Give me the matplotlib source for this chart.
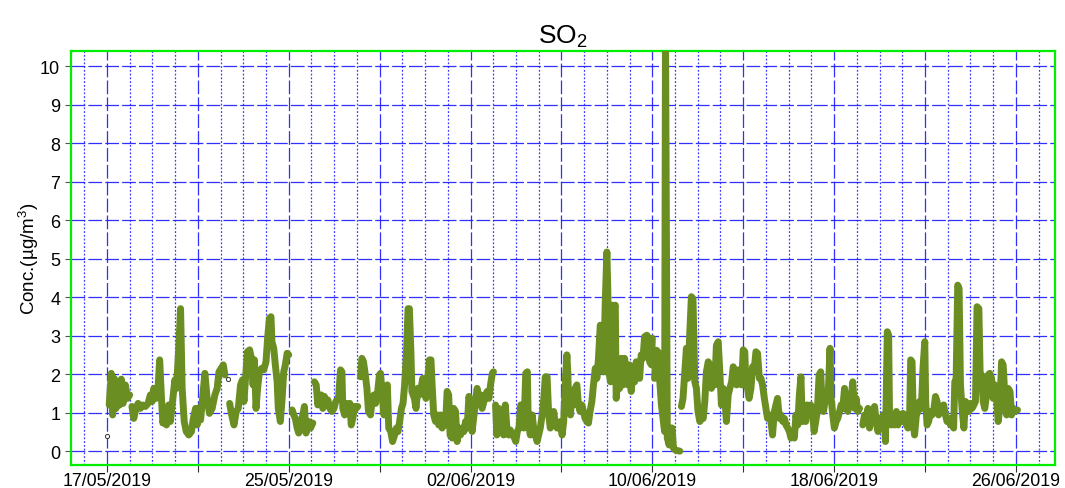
import numpy as np
import pandas as pd
import matplotlib
matplotlib.use("Agg")
import matplotlib.pyplot as plt
import matplotlib.dates as mdates
from matplotlib.ticker import FixedLocator, FixedFormatter

plt.rcParams['font.family'] = ['Liberation Sans', 'DejaVu Sans']
plt.rcParams['mathtext.fontset'] = 'custom'
plt.rcParams['mathtext.rm'] = 'Liberation Sans'
plt.rcParams['mathtext.it'] = 'Liberation Sans:italic'

# ---------------- data ----------------
start = pd.Timestamp('2019-05-17')
title = 'SO$_2$'
ylabel = 'Conc.(µg/m$^3$)'
tick_labels = ['17/05/2019', '', '25/05/2019', '', '02/06/2019', '',
               '10/06/2019', '', '18/06/2019', '', '26/06/2019']

# time in days after 17/05/2019 00:00, SO2 concentration (µg/m3); nan = gap
days = [
    0.10, 0.19, 0.25, 0.32, 0.40, 0.49, 0.56, 0.63, 0.71, 0.81, 0.91, 1.00, 1.05,
    1.10, 1.18, 1.28, 1.37, 1.47, 1.57, 1.69, 1.81, 1.91, 1.99, 2.06, 2.16, 2.24,
    2.32, 2.40, 2.46, 2.54, 2.62, 2.72, 2.79, 2.90, 2.99, 3.06, 3.16, 3.24, 3.31,
    3.40, 3.49, 3.60, 3.72, 3.79, 3.90, 3.97, 4.04, 4.12, 4.31, 4.41, 4.51, 4.63,
    4.75, 4.85, 4.93, 5.03, 5.12, 5.19, 5.30, 5.40, 5.49, 5.59, 5.69, 5.78, 5.88,
    5.96, 6.03, 6.18, 6.28, 6.37, 6.43, 6.49, 6.56, 6.63, 6.71, 6.81, 6.90, 7.00,
    7.07, 7.15, 7.22, 7.26, 7.34, 7.41, 7.49, 7.54, 7.63, 7.71, 7.78, 7.85, 7.93,
    8.00, 8.08, 8.15, 8.22, 8.29, 8.37, 8.44, 8.54, 8.62, 8.69, 8.76, 8.87, 8.96,
    9.06, 9.10, 9.13, 9.21, 9.28, 9.35, 9.43, 9.50, 9.57, 9.65, 9.72, 9.81, 9.90,
    9.99, 10.07, 10.19, 10.28, 10.34, 10.38, 10.46, 10.53, 10.60, 10.69, 10.75,
    10.82, 10.90, 10.97, 11.04, 11.10, 11.16, 11.22, 11.29, 11.37, 11.44, 11.51,
    11.60, 11.68, 11.75, 11.82, 11.90, 11.99, 12.04, 12.12, 12.19, 12.26, 12.34,
    12.40, 12.49, 12.57, 12.66, 12.74, 12.81, 12.88, 12.96, 13.03, 13.10, 13.18,
    13.25, 13.31, 13.38, 13.42, 13.53, 13.60, 13.68, 13.75, 13.82, 13.90, 13.97,
    14.04, 14.12, 14.19, 14.26, 14.31, 14.38, 14.46, 14.53, 14.60, 14.68, 14.75,
    14.82, 14.90, 14.97, 15.04, 15.10, 15.19, 15.26, 15.34, 15.41, 15.49, 15.56,
    15.63, 15.71, 15.78, 15.85, 15.93, 16.00, 16.07, 16.15, 16.22, 16.29, 16.37,
    16.44, 16.51, 16.59, 16.66, 16.73, 16.81, 16.88, 16.96, 17.01, 17.05, 17.10,
    17.16, 17.24, 17.31, 17.38, 17.46, 17.53, 17.60, 17.68, 17.75, 17.82, 17.91,
    17.99, 18.06, 18.13, 18.21, 18.28, 18.35, 18.43, 18.50, 18.54, 18.63, 18.71,
    18.78, 18.85, 18.93, 19.00, 19.07, 19.15, 19.22, 19.29, 19.37, 19.44, 19.51,
    19.59, 19.66, 19.74, 19.81, 19.88, 19.96, 20.03, 20.10, 20.18, 20.24, 20.28,
    20.32, 20.40, 20.46, 20.53, 20.60, 20.68, 20.75, 20.82, 20.90, 20.97, 21.04,
    21.12, 21.19, 21.26, 21.34, 21.41, 21.49, 21.56, 21.63, 21.71, 21.78, 21.85,
    21.93, 22.00, 22.04, 22.09, 22.16, 22.24, 22.31, 22.37, 22.41, 22.49, 22.56,
    22.63, 22.71, 22.78, 22.85, 22.93, 23.00, 23.07, 23.15, 23.22, 23.29, 23.37,
    23.44, 23.51, 23.59, 23.66, 23.76, 23.84, 23.88, 23.96, 24.00, 24.05, 24.10,
    24.18, 24.25, 24.32, 24.40, 24.47, 24.54, 24.58, 24.66, 24.74, 24.81, 24.87,
    24.93, 25.01, 25.13, 25.21, 25.25, 25.28, 25.35, 25.43, 25.50, 25.57, 25.65,
    25.72, 25.79, 25.87, 25.94, 26.01, 26.09, 26.16, 26.24, 26.31, 26.38, 26.46,
    26.53, 26.60, 26.68, 26.75, 26.82, 26.90, 26.97, 27.04, 27.12, 27.19, 27.26,
    27.34, 27.41, 27.49, 27.56, 27.63, 27.71, 27.78, 27.85, 27.93, 28.00, 28.07,
    28.12, 28.19, 28.26, 28.34, 28.41, 28.49, 28.56, 28.63, 28.71, 28.78, 28.85,
    28.93, 29.00, 29.07, 29.15, 29.22, 29.29, 29.37, 29.44, 29.51, 29.59, 29.66,
    29.74, 29.81, 29.88, 29.96, 30.03, 30.10, 30.18, 30.25, 30.32, 30.40, 30.47,
    30.54, 30.60, 30.68, 30.75, 30.82, 30.90, 30.97, 31.04, 31.12, 31.19, 31.26,
    31.34, 31.41, 31.46, 31.53, 31.60, 31.68, 31.75, 31.82, 31.87, 31.94, 32.01,
    32.09, 32.16, 32.24, 32.31, 32.38, 32.46, 32.53, 32.60, 32.68, 32.75, 32.82,
    32.90, 32.97, 33.04, 33.12, 33.19, 33.26, 33.34, 33.41, 33.49, 33.56, 33.63,
    33.71, 33.78, 33.85, 33.93, 34.00, 34.07, 34.15, 34.22, 34.26, 34.34, 34.40,
    34.44, 34.51, 34.59, 34.66, 34.74, 34.81, 34.88, 34.96, 35.03, 35.10, 35.18,
    35.25, 35.32, 35.37, 35.43, 35.49, 35.54, 35.62, 35.69, 35.76, 35.84, 35.91,
    35.99, 36.03, 36.09, 36.16, 36.24, 36.31, 36.38, 36.46, 36.53, 36.60, 36.68,
    36.75, 36.82, 36.90, 36.97, 37.04, 37.12, 37.19, 37.26, 37.31, 37.37, 37.44,
    37.50, 37.56, 37.63, 37.71, 37.78, 37.85, 37.93, 38.00, 38.07, 38.15, 38.22,
    38.29, 38.37, 38.43, 38.49, 38.56, 38.63, 38.71, 38.78, 38.85, 38.93, 39.00,
    39.07, 39.15, 39.22, 39.29, 39.37, 39.44, 39.51, 39.59, 39.66, 39.74, 39.81,
    39.88, 39.96, 40.07,
]
nan = np.nan
conc = [
    1.20, 2.02, 0.94, 1.89, 1.11, 1.80, 1.20, 1.87, 1.24, 1.72, 1.37, 1.46, nan,
    1.16, 0.85, 1.11, 1.24, 1.11, 1.20, 1.16, 1.24, 1.46, 1.29, 1.63, 1.37, 1.55,
    2.37, 1.37, 0.73, 0.94, 0.68, 1.20, 0.77, 1.37, 1.85, 1.63, 2.67, 3.70, 1.63,
    0.77, 0.51, 0.42, 0.51, 0.81, 1.11, 0.68, 1.11, 0.81, 2.02, 1.37, 0.98, 1.11,
    1.46, 1.63, 2.06, 2.15, 2.24, 1.98, nan, 1.24, 0.94, 0.68, 1.03, 1.11, 1.72,
    1.85, 1.29, 2.58, 2.63, 2.37, 1.72, 2.37, 1.11, 1.63, 2.06, 2.15, 2.11, 2.32,
    2.93, 3.45, 3.49, 2.84, 2.67, 2.24, 1.80, 1.11, 0.77, 1.37, 2.06, 2.24, 2.54,
    2.50, nan, 1.07, 0.94, 0.85, 0.60, 0.47, 0.77, 0.94, 1.16, 0.47, 0.77, 0.60,
    0.73, nan, 1.80, 1.72, 1.20, 1.37, 1.46, 1.11, 1.42, 1.29, 1.33, 1.11, 1.03,
    1.11, 1.29, 1.37, 2.11, 2.06, 1.11, 0.94, 1.24, 1.07, 1.24, 0.68,
    0.85, 1.16, 1.11, 1.16, nan, 1.93, 2.41, 2.32, 1.98, 1.63, 1.03,
    0.94, 1.37, 1.46, 1.24, 1.46, 1.98, 2.02, 1.46, 0.94, 1.63, 1.72,
    0.60, 0.51, 0.25, 0.42, 0.60, 0.51, 0.77, 1.11, 1.24, 1.72, 2.50,
    3.70, 3.70, 2.50, 1.55, 1.37, 1.11, 1.63, 1.46, 1.63, 1.89, 1.55,
    1.37, 1.89, 2.37, 2.37, 1.72, 0.94, 0.77, 0.94, 0.68, 0.94, 0.60,
    0.77, 0.68, 1.55, 1.46, 0.42, 0.34, 1.11, 1.03, 0.25, 0.60, 0.42,
    0.60, 0.51, 0.77, 0.60, 1.42, 1.20, 0.51, 0.94, 1.29, 1.63, 1.37,
    1.46, 1.11, 1.29, 1.46, 1.55, 1.37, 1.72, 2.02, 2.06, nan, 1.20,
    0.42, 1.11, 0.77, 0.51, 0.42, 1.20, 0.60, 0.42, 0.55, 0.42, 0.38,
    0.25, 0.51, 0.60, 1.20, 1.11, 0.60, 2.02, 2.06, 0.77, 0.42, 0.94,
    0.60, 0.42, 0.25, 0.42, 0.60, 0.94, 1.33, 1.93, 1.93, 0.94, 0.60,
    0.94, 1.03, 0.68, 0.60, 0.60, 0.77, 0.42, 0.77, 1.89, 2.50, 2.06,
    1.20, 0.94, 1.55, 1.20, 1.63, 1.72, 1.20, 1.03, 1.20, 1.03, 0.85,
    0.77, 0.73, 1.03, 1.29, 1.72, 2.15, 1.89, 2.41, 3.27, 2.93, 2.06,
    3.88, 5.17, 4.22, 2.06, 1.80, 3.79, 3.70, 3.79, 1.37, 1.89, 1.63,
    2.41, 1.72, 2.41, 2.06, 1.72, 2.24, 1.55, 2.06, 1.80, 2.32, 2.24,
    1.89, 2.50, 2.41, 2.97, 3.01, 2.93, 2.32, 2.24, 2.93, nan, 1.89,
    2.62, 2.58, 1.89, 1.20, 0.85, 0.51, 11.0, 0.34, 0.16, 0.60, 0.60,
    0.08, 0.03, 0.01, 0.00, nan, 1.16, 1.37, 2.06, 2.67, 1.89, 3.10,
    4.01, 3.96, 1.80, 1.63, 1.03, 0.77, 0.85, 0.85, 1.29, 2.06, 2.32,
    2.24, 1.63, 1.89, 1.72, 2.75, 2.84, 2.06, 1.20, 1.63, 1.37, 0.77,
    1.46, 1.63, 1.80, 2.19, 2.06, 1.72, 2.11, 2.06, 1.72, 2.63, 2.58,
    1.72, 1.63, 1.37, 1.63, 2.19, 2.15, 2.58, 2.54, 1.89, 1.89, 1.72,
    1.37, 1.11, 0.85, 0.94, 0.77, 0.42, 1.03, 1.20, 1.37, 0.85, 0.94,
    0.77, 0.85, 0.68, 0.60, 0.51, 0.34, 0.42, 0.34, 0.94, 0.68, 1.46,
    1.93, 0.77, 1.11, 0.77, 1.20, 1.03, 1.20, 1.11, 0.51, 0.77, 1.03,
    1.98, 2.06, 1.37, 1.03, 1.29, 1.37, 1.63, 2.67, 1.37, 0.94, 0.60,
    0.77, 0.85, 1.03, 1.20, 1.11, 1.63, 1.11, 1.03, 1.29, 1.37, 1.80,
    1.11, 1.37, 1.03, 1.11, nan, 0.68, 0.94, 0.77, 1.11, 0.60, 0.94,
    1.03, 1.16, 0.77, 0.51, 0.85, 0.68, 0.94, 0.68, 0.25, 3.10, 3.01,
    0.85, 0.68, 0.94, 0.68, 1.03, 0.68, 0.94, 0.77, 0.98, 0.94, 0.68,
    0.60, 0.85, 2.37, 2.32, 0.68, 0.42, 0.94, 1.03, 1.29, 1.11, 2.15,
    2.84, 1.29, 0.68, 0.77, 1.03, 0.94, 1.03, 1.42, 1.29, 0.94, 1.03,
    1.16, 1.20, 0.94, 0.77, 0.85, 0.68, 0.85, 0.60, 1.80, 1.89, 4.31,
    4.22, 1.72, 1.11, 0.60, 1.29, 1.11, 1.03, 1.24, 1.11, 1.20, 1.29,
    3.75, 3.70, 1.89, 1.98, 1.29, 1.11, 1.46, 1.98, 2.02, 1.89, 1.37,
    1.72, 1.37, 0.77, 1.11, 2.32, 2.24, 1.46, 0.94, 1.63, 1.55, 0.94,
    1.11, 1.03, 1.07,
]
# isolated single readings (drawn as small open markers)
single_days = [0.00, 5.32]
single_conc = [0.40, 1.87]

# ---------------- plot ----------------
times = start + pd.to_timedelta(days, unit='D')
single_times = start + pd.to_timedelta(single_days, unit='D')

fig = plt.figure(figsize=(10.65, 4.89), dpi=100)
ax = fig.add_axes([0.0667, 0.047, 0.9239, 0.8467])

ax.plot(times, conc, color='#6b8e23', lw=5.0, solid_joinstyle='round',
        solid_capstyle='round', zorder=3)
ax.plot(single_times, single_conc, ls='none', marker='o', ms=3, mfc='white',
        mec='#333333', mew=0.7, zorder=4)

ax.set_xlim(start - pd.Timedelta(days=1.58), start + pd.Timedelta(days=41.72))
ax.set_ylim(-0.36, 10.39)

major = [mdates.date2num(start + pd.Timedelta(days=4 * k)) for k in range(len(tick_labels))]
ax.xaxis.set_major_locator(FixedLocator(major))
ax.xaxis.set_major_formatter(FixedFormatter(tick_labels))
ax.xaxis.set_minor_locator(mdates.DayLocator(interval=1))
ax.set_yticks(range(0, 11))

ax.set_axisbelow(True)
ax.grid(which='major', axis='both', color='#1a1aff', lw=0.9, ls=(0, (11, 2.5)), alpha=0.9)
ax.grid(which='minor', axis='x', color='#1a1aff', lw=0.9, ls=(0, (1.5, 1.5)), alpha=0.85)

ax.tick_params(axis='x', which='major', length=5, width=0.8, color='#333333',
               labelsize=12.8, pad=0)
ax.tick_params(axis='x', which='minor', length=0)
ax.tick_params(axis='y', length=4.3, width=0.8, color='#555555', labelsize=13, pad=3.5)

for s in ax.spines.values():
    s.set_color('#00ee00')
    s.set_linewidth(1.6)

ax.set_title(title, fontsize=19, pad=6)
ax.set_ylabel(ylabel, fontsize=13.5)
ax.yaxis.set_label_coords(-0.031, 0.5)

fig.savefig('out.png', dpi=100)
